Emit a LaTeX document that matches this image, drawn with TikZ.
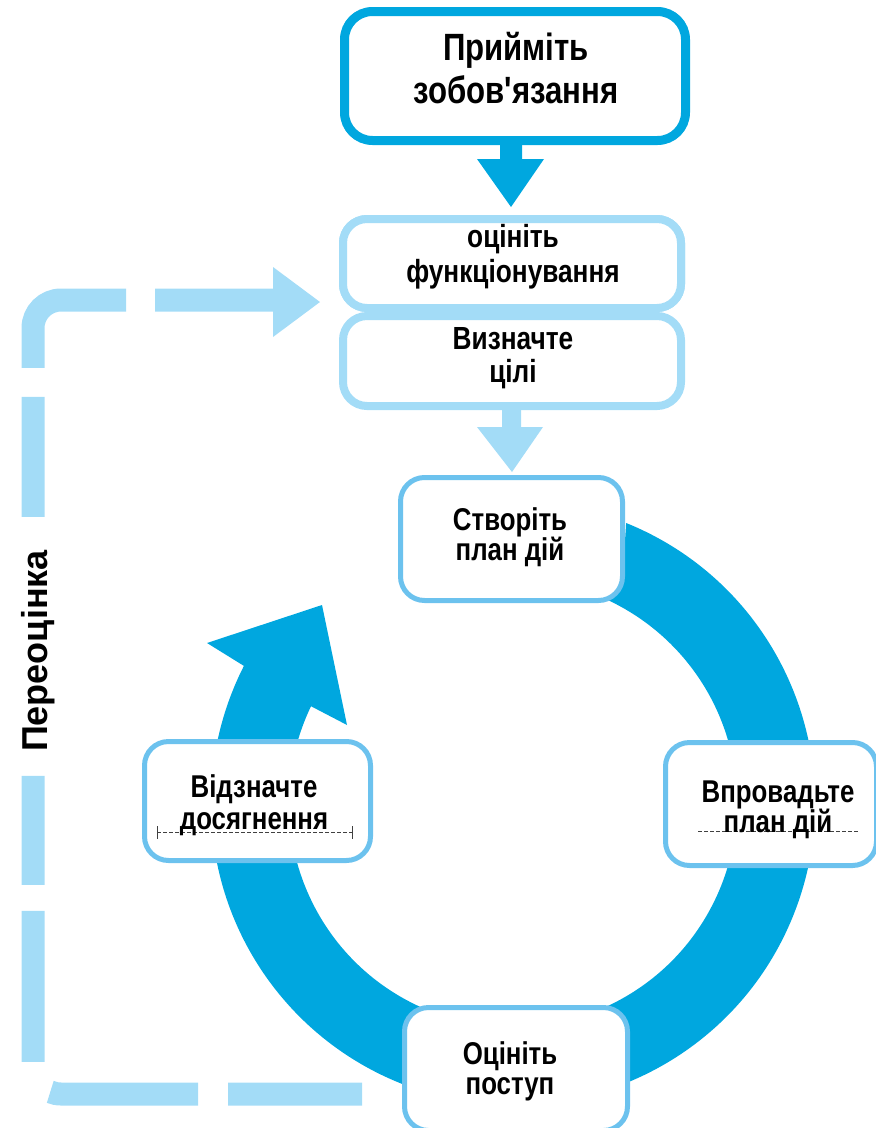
\documentclass[tikz,border=0pt]{standalone}
\usepackage{fontspec}
\usetikzlibrary{calc}
\newfontfamily\nb[FakeStretch=0.82]{Liberation Sans}
\newfontfamily\wb{Liberation Sans}
\definecolor{dkblue}{RGB}{0,167,223}
\definecolor{ltblue}{RGB}{163,220,247}
\definecolor{mdblue}{RGB}{108,194,238}
\begin{document}
\begin{tikzpicture}[x=1pt,y=1pt,
  boxA/.style={draw=dkblue, line width=9, fill=white, rounded corners=28, minimum width=341, minimum height=129, inner sep=0},
  boxL/.style={draw=ltblue, line width=8, fill=white, rounded corners=24, minimum width=338, inner sep=0},
  cyc/.style={draw=mdblue, line width=5, fill=white, rounded corners=24, inner sep=0},
  txtA/.style={font=\nb\bfseries\fontsize{38}{38}\selectfont, inner sep=0, anchor=base},
  txtB/.style={font=\nb\bfseries\fontsize{32}{32}\selectfont, inner sep=0, anchor=base},
  txtC/.style={font=\nb\bfseries\fontsize{31.5}{32}\selectfont, inner sep=0, anchor=base},
  side/.style={font=\wb\bfseries\fontsize{36}{36}\selectfont, inner sep=0, anchor=base, rotate=90},
  loopline/.style={draw=ltblue, line width=23, rounded corners=28,
    dash pattern=on 134pt off 30pt on 148pt off 37pt on 151pt off 26pt on 109pt off 259pt on 120pt off 29pt on 149pt off 29pt on 300pt},
  artline/.style={draw=black!75, line width=0.8, dash pattern=on 4pt off 2pt}
]
\useasboundingbox (0,0) rectangle (876,-1128);

% ---- feedback loop (under everything)
\node[boxL, minimum height=89] (B) at (512,-263.5) {};
\coordinate (loopstart) at (362,-1094);
\coordinate (loopBL) at (33,-1094);
\coordinate (loopTL) at (33,-300);
\coordinate (shaftend) at ($(B.west)+(-62,-36.5)$);
\draw[loopline] (loopstart) -- (loopBL) -- (loopTL) -- (shaftend);
\fill[ltblue] ($(B.west)+(-66,-3.5)$) -- ($(B.west)+(-19,-38.5)$) -- ($(B.west)+(-66,-73.5)$) -- cycle;
\node[side] (reval) at (47,-651) {Переоцінка};

% ---- cycle ring with arrow
\coordinate (c) at (513,-803);
\fill[dkblue] ($(c)+(68:302)$) arc[start angle=68, end angle=-207, radius=302]
  -- (207,-643) -- (322,-605) -- (347,-725)
  -- ($(c)+(-205.6:224)$) arc[start angle=-205.6, end angle=66.5, radius=224]
  -- ($(c)+(64:250)$) -- cycle;

% ---- top boxes
\node[boxA] (A) at (515,-76) {};
\node[boxL, minimum height=89] (B) at (512,-263.5) {};
\node[boxL, minimum height=90] (C) at (512,-361) {};

% ---- cycle boxes
\node[cyc, minimum width=222, minimum height=123] (D) at (511.5,-539) {};
\node[cyc, minimum width=226, minimum height=119] (L) at (257.5,-801) {};
\node[cyc, minimum width=211, minimum height=123] (R) at (771,-804) {};
\node[cyc, minimum width=223, minimum height=123] (Bt) at (516,-1069) {};

% ---- block arrows
\fill[dkblue] ($(A.south)+(-15,5)$) -- ($(A.south)+(7,5)$) -- ($(A.south)+(7,-14)$)
  -- ($(A.south)+(29,-14)$) -- ($(B.north)+(-1,8)$) -- ($(A.south)+(-38,-14)$)
  -- ($(A.south)+(-15,-14)$) -- cycle;
\fill[ltblue] ($(C.south)+(-10,5)$) -- ($(C.south)+(9,5)$) -- ($(C.south)+(9,-17)$)
  -- ($(C.south)+(31,-17)$) -- ($(D.north)+(0.5,3)$) -- ($(C.south)+(-35,-17)$)
  -- ($(C.south)+(-10,-17)$) -- cycle;

% ---- stray underline marks
\draw[artline] (157,-832) -- (352,-832);
\draw[black!75, line width=0.8] (157,-826) -- (157,-839) (352,-826) -- (352,-839);
\draw[artline] (698,-831) -- (858,-831);

% ---- texts
\node[txtA] (tA1) at (516,-60) {Прийміть};
\node[txtA] (tA2) at (516,-103) {зобов'язання};
\node[txtB] (tB1) at (513,-247) {оцініть};
\node[txtB] (tB2) at (513,-282) {функціонування};
\node[txtB] (tC1) at (513,-349) {Визначте};
\node[txtB] (tC2) at (513,-382) {цілі};
\node[txtC] (tD1) at (510,-530) {Створіть};
\node[txtC] (tD2) at (510,-560) {план дій};
\node[txtC] (tL1) at (254,-797) {Відзначте};
\node[txtC] (tL2) at (254,-829) {досягнення};
\node[txtC] (tR1) at (778,-802) {Впровадьте};
\node[txtC] (tR2) at (778,-832) {план дій};
\node[txtC] (tBt1) at (510,-1064) {Оцініть};
\node[txtC] (tBt2) at (510,-1094) {поступ};
\end{tikzpicture}
\end{document}
